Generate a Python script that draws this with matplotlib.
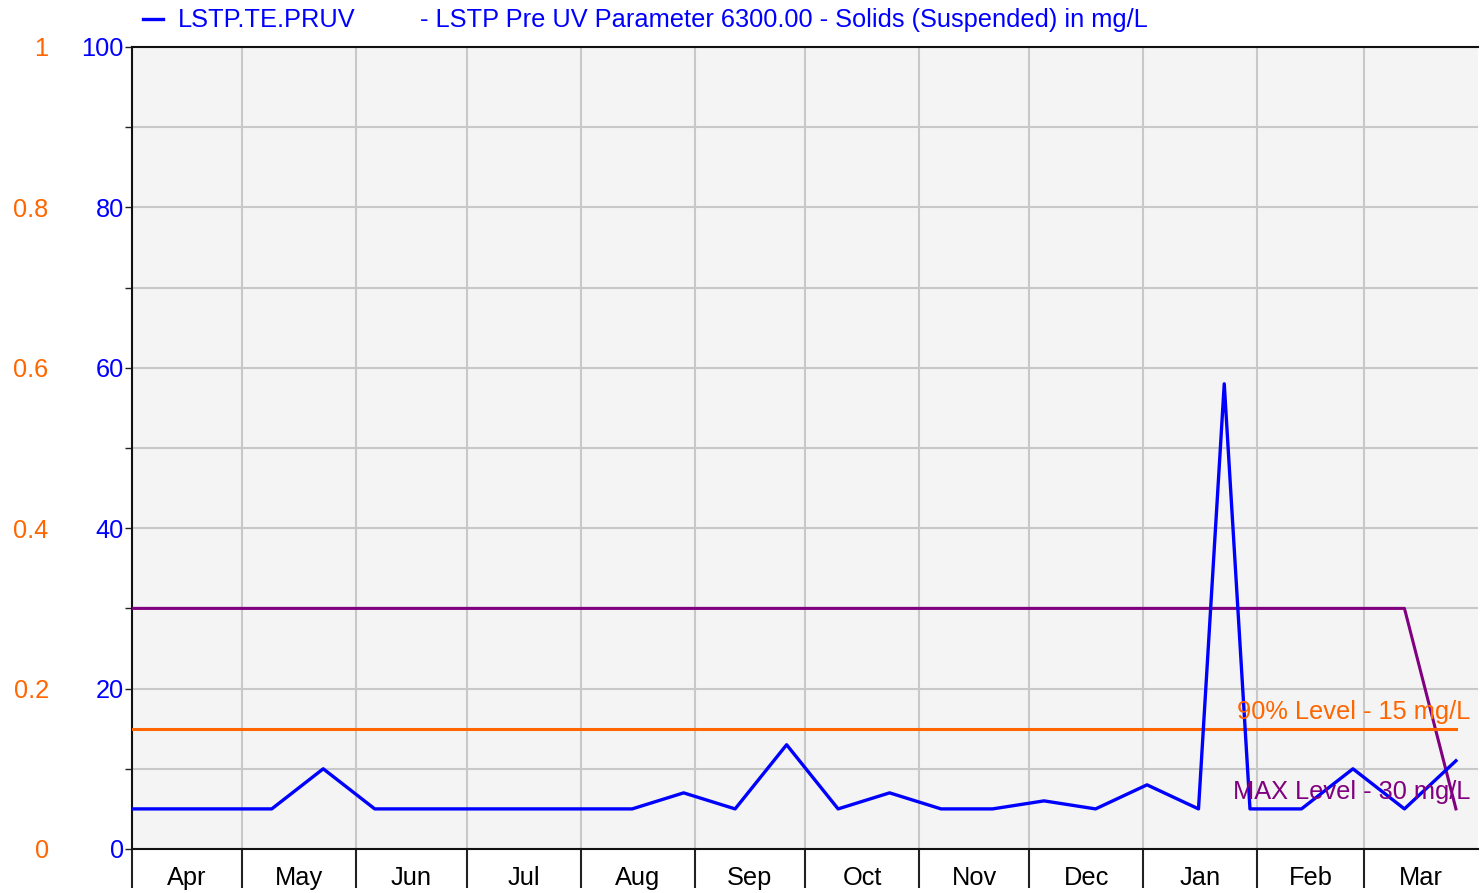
import matplotlib
matplotlib.use("Agg")
import matplotlib.pyplot as plt
from matplotlib.lines import Line2D
import datetime as dt

plt.rcParams['font.family'] = ['Liberation Sans', 'DejaVu Sans']

# sample dates (biweekly + one extra sample in Jan)
dates = ["2023-03-28", "2023-04-11", "2023-04-25", "2023-05-09", "2023-05-23",
         "2023-06-06", "2023-06-20", "2023-07-04", "2023-07-18", "2023-08-01",
         "2023-08-15", "2023-08-29", "2023-09-12", "2023-09-26", "2023-10-10",
         "2023-10-24", "2023-11-07", "2023-11-21", "2023-12-05", "2023-12-19",
         "2024-01-02", "2024-01-16", "2024-01-23", "2024-01-30", "2024-02-13",
         "2024-02-27", "2024-03-12", "2024-03-26"]
solids = [5, 5, 5, 5, 10, 5, 5, 5, 5, 5, 5, 7, 5, 13, 5, 7, 5, 5, 6, 5,
          8, 5, 58, 5, 5, 10, 5, 11]
max_level = [30] * 27 + [5]
level_90 = [15] * 28

month_labels = ["Apr", "May", "Jun", "Jul", "Aug", "Sep", "Oct", "Nov",
                "Dec", "Jan", "Feb", "Mar"]
left_ticks = [0, 20, 40, 60, 80, 100]
right_ticks = ["0", "0.2", "0.4", "0.6", "0.8", "1"]

blue = "#0000ff"
purple = "#800080"
orange = "#ff6600"
fs = 18.3

x = [dt.datetime.strptime(d, "%Y-%m-%d") for d in dates]

fig = plt.figure(figsize=(14.8, 8.93), dpi=100)
ax = fig.add_axes([132 / 1480, 1 - 849 / 893, 1346 / 1480, 802 / 893])
ax.set_facecolor("#f4f4f4")

ax.plot(x, max_level, color=purple, lw=2.2, zorder=3)
ax.plot(x, level_90, color=orange, lw=2.2, zorder=3)
ax.plot(x, solids, color=blue, lw=2.4, zorder=4)

ax.text(dt.datetime(2024, 3, 30), 17.1, "90% Level - 15 mg/L", color=orange,
        fontsize=fs, ha="right", va="center", zorder=5)
ax.text(dt.datetime(2024, 3, 30), 7.1, "MAX Level - 30 mg/L", color=purple,
        fontsize=fs, ha="right", va="center", zorder=5)

ax.set_xlim(dt.datetime(2023, 4, 1), dt.datetime(2024, 4, 1))
ax.set_ylim(0, 100)

# month boundaries as major ticks, labels at mid-month
month_starts = [dt.datetime(2023 + (m + 3 > 12), (m + 3 - 1) % 12 + 1, 1) for m in range(1, 13)]
mids = [a + (b - a) / 2 for a, b in zip(month_starts, month_starts[1:] + [dt.datetime(2024, 4, 1)])]
ax.set_xticks(month_starts)
ax.set_xticklabels([])
ax.set_xticks(mids, minor=True)
ax.set_xticklabels(month_labels, minor=True, fontsize=fs)
ax.tick_params(axis="x", which="major", length=28, width=1.5, color="#222222", direction="out")
ax.tick_params(axis="x", which="minor", length=0, pad=12)

ax.set_yticks(left_ticks)
ax.set_yticks(range(10, 100, 20), minor=True)
ax.tick_params(axis="y", which="both", length=5, width=1, colors="#222222", pad=1)
for lbl in ax.get_yticklabels():
    lbl.set_color(blue)
    lbl.set_fontsize(fs)

ax.grid(True, which="major", axis="x", color="#c8c8c8", lw=1.5)
ax.grid(True, which="both", axis="y", color="#c8c8c8", lw=1.5)
ax.set_axisbelow(True)

for s in ["left", "top", "bottom"]:
    ax.spines[s].set_color("#111111")
    ax.spines[s].set_linewidth(1.5)
ax.spines["right"].set_visible(False)

# secondary scale on far left
ax2 = ax.twinx()
ax2.set_ylim(0, 1)
ax2.yaxis.tick_left()
ax2.spines["left"].set_position(("outward", 60))
for s in ax2.spines.values():
    s.set_visible(False)
ax2.set_yticks([float(t) for t in right_ticks])
ax2.set_yticklabels(right_ticks, color=orange, fontsize=fs)
ax2.tick_params(axis="y", length=0, pad=0)

# legend line at top
fig.add_artist(Line2D([143 / 1480, 163 / 1480], [1 - 19 / 893, 1 - 19 / 893],
                      transform=fig.transFigure, color=blue, lw=2.4))
fig.text(178 / 1480, 1 - 20 / 893, "LSTP.TE.PRUV", color=blue, fontsize=fs, va="center")
fig.text(420 / 1480, 1 - 20 / 893, "- LSTP Pre UV Parameter 6300.00 - Solids (Suspended) in mg/L",
         color=blue, fontsize=fs, va="center")

fig.savefig("out.png", dpi=100, facecolor="white")
